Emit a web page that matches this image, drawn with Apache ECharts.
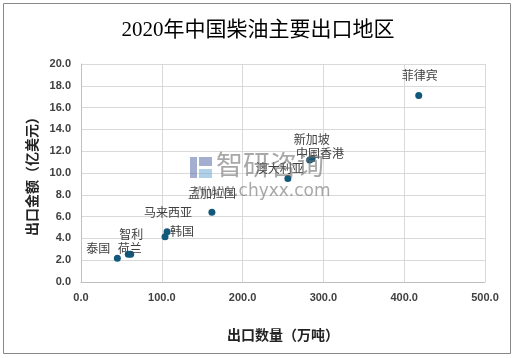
<!DOCTYPE html>
<html><head><meta charset="utf-8">
<script src="https://cdn.jsdelivr.net/npm/echarts@6/dist/echarts.min.js"></script>
<style>html,body{margin:0;padding:0;background:#fff}#c{width:516px;height:358px}</style>
</head><body><div id="c"></div>
<script>
const names = ['菲律宾','新加坡','中国香港','澳大利亚','孟加拉国','马来西亚','韩国','智利','荷兰','泰国'];
const qty = [418, 283, 286, 256, 162, 106.5, 104, 58.5, 61.5, 45];
const amt = [17.1, 11.2, 11.3, 9.5, 6.4, 4.6, 4.15, 2.55, 2.55, 2.17];
const xTicks = [0, 100, 200, 300, 400, 500];
const yTicks = [0, 2, 4, 6, 8, 10, 12, 14, 16, 18, 20];

const labelOffset = {
  '菲律宾': [1,-20],
  '新加坡': [2,-20],
  '中国香港': [8,-5],
  '澳大利亚': [-8,-10],
  '孟加拉国': [0,-19],
  '马来西亚': [1,-19],
  '韩国': [17,-5],
  '智利': [3,-20],
  '荷兰': [-1,-6],
  '泰国': [-19,-10]
};
const SYM = 7;

const data = names.map((n,i)=>({
  value:[qty[i], amt[i]], name:n,
  label:{show:true, formatter:n,
    position:[SYM/2 + labelOffset[n][0], SYM/2 + labelOffset[n][1]],
    align:'center', verticalAlign:'middle',
    color:'#404040', fontSize:12, fontFamily:'Noto Sans CJK SC'}
}));

const chart = echarts.init(document.getElementById('c'));
chart.setOption({
  animation:false,
  title:{text:'2020年中国柴油主要出口地区', left:'center', top:15,
    textStyle:{fontSize:21, fontWeight:'normal', color:'#000', fontFamily:'"Liberation Serif","Noto Sans CJK SC"'}},
  graphic:[
    {type:'rect', shape:{x:3.5,y:3.5,width:507,height:350}, style:{fill:'none', stroke:'#888', lineWidth:1}, z:-1},
    {type:'text', left:216, top:151, style:{text:'智研咨询', fill:'rgba(110,110,110,0.6)', font:'27px "Noto Sans CJK SC"'}, z:100},
    {type:'text', left:193, top:183, style:{text:'www.chyxx.com', fill:'rgba(110,110,110,0.6)', font:'17px "DejaVu Sans"'}, z:100},
    {type:'rect', shape:{x:190,y:157,width:7,height:21}, style:{fill:'rgba(90,110,170,0.55)'}, z:100},
    {type:'rect', shape:{x:199,y:157,width:13,height:9}, style:{fill:'rgba(90,110,170,0.55)'}, z:100},
    {type:'rect', shape:{x:199,y:169,width:13,height:9}, style:{fill:'rgba(110,170,210,0.55)'}, z:100}
  ],
  grid:{left:81, right:31, top:64, bottom:76},
  xAxis:{type:'value', min:0, max:500, interval:100,
    name:'出口数量（万吨）', nameLocation:'middle', nameGap:46,
    nameTextStyle:{fontSize:14, fontWeight:'bold', color:'#222', fontFamily:'Noto Sans CJK SC'},
    axisLine:{show:true, lineStyle:{color:'#bfbfbf'}}, axisTick:{show:false},
    axisLabel:{formatter:v=>xTicks.includes(v)?v.toFixed(1):'', fontSize:11, fontWeight:'bold', color:'#404040', margin:10, fontFamily:'Liberation Sans'},
    splitLine:{show:true, lineStyle:{color:'#d9d9d9'}}},
  yAxis:{type:'value', min:0, max:20, interval:2,
    name:'出口金额（亿美元）', nameLocation:'middle', nameGap:42, nameRotate:90,
    nameTextStyle:{fontSize:14, fontWeight:'bold', color:'#222', fontFamily:'Noto Sans CJK SC'},
    axisLine:{show:true, lineStyle:{color:'#bfbfbf'}}, axisTick:{show:false},
    axisLabel:{formatter:v=>yTicks.includes(v)?v.toFixed(1):'', fontSize:11, fontWeight:'bold', color:'#404040', margin:10, fontFamily:'Liberation Sans'},
    splitLine:{show:true, lineStyle:{color:'#d9d9d9'}}},
  series:[{type:'scatter', symbolSize:SYM, itemStyle:{color:'#11587a', opacity:1}, data:data, labelLayout:{hideOverlap:false}}]
});
</script></body></html>
